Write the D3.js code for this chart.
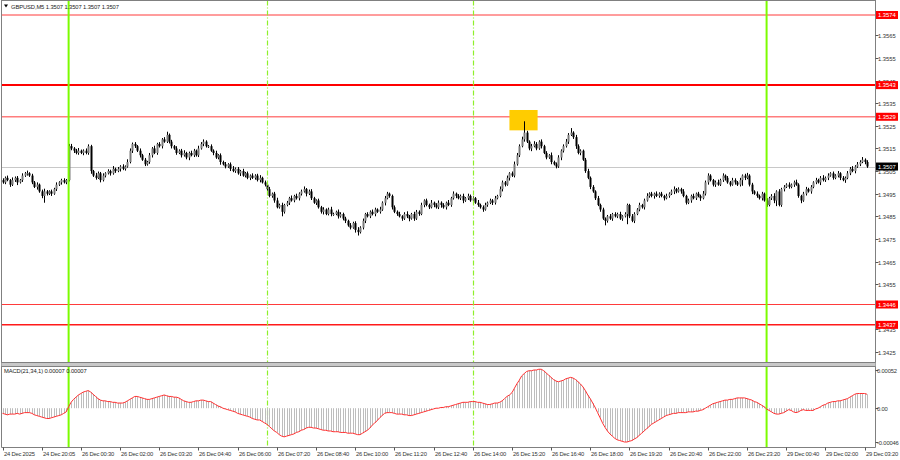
<!DOCTYPE html>
<html><head><meta charset="utf-8">
<script src="https://cdn.jsdelivr.net/npm/d3@7"></script>
<style>html,body{margin:0;padding:0;background:#fff}svg{display:block}text{font-family:"Liberation Sans",Arial,sans-serif}</style>
</head><body><div id="chart"></div>
<script>
const closes = [
1.3500,1.3502,1.3501,1.3499,1.3501,1.3502,1.3500,1.3501,1.3503,1.3504,
1.3504,1.3503,1.3500,1.3498,1.3499,1.3496,1.3494,1.3496,1.3495,1.3496,
1.3495,1.3497,1.3499,1.3500,1.3501,1.3500,1.3501,
1.3516,
1.3515,1.3514,1.3513,1.3514,1.3513,1.3514,1.3513,1.3516,
1.3505,1.3503,1.3502,1.3504,1.3501,
1.3503,1.3504,1.3505,1.3504,1.3506,1.3505,1.3506,1.3507,1.3506,1.3507,
1.3509,1.3514,1.3517,1.3516,
1.3514,1.3512,1.3510,1.3508,1.3509,
1.3512,1.3515,1.3513,1.3517,1.3516,1.3519,1.3518,1.3521,
1.3518,1.3516,1.3515,1.3513,1.3514,1.3512,1.3513,1.3511,
1.3513,1.3512,1.3514,1.3512,
1.3515,1.3517,1.3518,1.3516,
1.3516,1.3514,1.3513,1.3511,1.3512,1.3509,
1.3508,1.3507,1.3508,1.3506,1.3505,1.3506,1.3504,1.3505,
1.3503,1.3504,1.3502,1.3503,1.3502,1.3503,1.3501,1.3502,
1.3500,1.3499,
1.3497,1.3494,1.3495,1.3492,
1.3489,1.3490,1.3487,
1.3490,1.3491,1.3493,1.3492,1.3494,1.3493,1.3495,
1.3496,1.3497,1.3495,1.3496,
1.3493,1.3491,1.3492,
1.3489,1.3487,1.3488,1.3486,1.3488,1.3486,
1.3486,1.3487,1.3485,1.3486,1.3484,1.3483,
1.3481,1.3480,1.3482,1.3479,1.3478,1.3480,
1.3483,1.3486,1.3485,1.3487,
1.3486,1.3488,1.3487,1.3488,
1.3491,1.3493,1.3495,1.3494,
1.3489,1.3487,
1.3486,1.3485,1.3484,1.3486,1.3485,1.3484,
1.3486,1.3484,1.3487,1.3486,
1.3490,1.3492,
1.3490,1.3489,1.3491,1.3490,1.3489,1.3491,1.3490,1.3489,1.3491,1.3490,
1.3493,1.3495,1.3494,
1.3493,1.3494,1.3492,1.3493,1.3494,1.3492,
1.3493,1.3491,1.3490,
1.3489,1.3488,1.3490,
1.3491,1.3492,1.3491,1.3493,1.3494,
1.3497,1.3500,1.3499,
1.3502,1.3504,1.3503,
1.3508,1.3512,
1.3516,1.3519,1.3522,
1.3518,1.3515,1.3516,
1.3517,1.3515,1.3518,1.3516,
1.3513,1.3511,1.3512,
1.3509,1.3508,1.3507,
1.3511,1.3514,1.3516,1.3518,
1.3521,1.3522,1.3520,
1.3516,1.3513,1.3514,1.3510,
1.3505,1.3502,1.3498,1.3496,
1.3493,1.3490,1.3488,
1.3484,1.3483,
1.3485,1.3484,1.3486,1.3485,1.3486,1.3484,1.3485,1.3486,
1.3490,
1.3485,1.3483,1.3486,
1.3488,1.3490,1.3489,
1.3492,1.3494,1.3495,1.3494,1.3495,1.3494,1.3495,
1.3494,1.3493,1.3494,1.3495,
1.3496,1.3497,1.3496,1.3497,1.3496,
1.3494,1.3491,1.3492,
1.3494,1.3493,1.3495,1.3494,1.3493,1.3495,
1.3500,1.3503,
1.3501,1.3499,1.3500,1.3499,
1.3501,1.3503,1.3502,
1.3500,1.3499,1.3501,1.3500,1.3499,
1.3501,1.3503,1.3502,1.3503,
1.3499,1.3496,1.3495,
1.3494,1.3493,1.3495,1.3492,
1.3490,
1.3493,1.3494,1.3492,
1.3496,1.3490,1.3497,
1.3498,1.3499,1.3498,1.3499,1.3500,1.3499,
1.3494,1.3492,
1.3495,1.3497,1.3496,1.3498,
1.3500,1.3501,1.3500,1.3502,1.3501,1.3502,
1.3503,1.3504,1.3502,1.3503,1.3504,
1.3502,1.3501,1.3502,
1.3504,1.3506,1.3505,1.3507,
1.3508,1.3509,1.3510,1.3509,
1.3507
];
const firstOpen = 1.3501;
// wick lengths in points (0.00001)
const wickHi = [
8,6,10,5,12,6,8,5,10,6, 12,5,8,6,10,5,8,12,6,5, 8,6,10,5,6,8,5,10,10,6,
8,12,5,6,10,8,6,5,12,8, 6,10,5,8,6,12,5,8,6,10, 5,12,10,6,8,5,10,6,8,5,
10,6,12,5,8,6,10,14,6,8, 5,10,6,8,12,5,6,10,8,5, 12,8,10,6,5,8,6,10,5,8,
6,10,5,8,12,6,8,5,10,6, 8,5,10,6,8,12,5,8,6,10, 5,8,12,6,10,5,8,6,12,5,
10,6,8,12,5,8,10,6,5,8, 6,10,5,8,12,6,5,10,8,6, 8,5,10,6,8,12,6,10,5,8,
6,10,8,5,12,6,10,8,5,6, 8,6,10,5,8,12,6,5,10,8, 6,10,5,8,6,12,5,8,10,6,
8,5,12,6,10,5,8,6,10,5, 10,6,8,5,12,6,8,10,5,8, 6,10,5,12,8,6,10,5,8,12,
10,8,12,50,8,6,10,12,8,6, 10,6,8,5,12,6,8,10,6,8, 12,8,20,6,10,8,6,5,8,10,
6,8,5,10,6,8,5,6,10,5, 8,6,10,5,8,6,5,10,8,6, 10,5,8,12,6,8,5,10,6,8,
5,10,6,8,12,5,8,6,10,5, 8,6,10,5,8,6,12,8,10,6, 5,8,12,6,10,5,8,6,10,8,
6,10,5,8,12,6,8,5,10,6, 8,5,10,6,8,12,5,10,6,8, 6,10,5,8,12,6,5,8,10,6,
8,5,10,6,8,12,6,10,5,8, 6,10,5,8,6,10,8,12,6,10, 8,12,6,8
];
const wickLo = [
6,8,5,10,6,8,12,5,8,6, 10,6,8,5,12,6,10,30,8,6, 10,5,8,6,10,5,8,6,8,10,
6,8,5,10,6,8,12,6,8,5, 10,6,8,5,10,6,8,5,12,6, 8,5,6,10,8,6,10,5,8,6,
8,10,5,8,6,10,5,6,8,10, 6,8,5,10,6,8,12,5,8,6, 8,5,10,6,8,5,10,6,8,12,
5,8,6,10,5,8,6,12,5,8, 6,10,5,8,6,10,5,8,12,6, 8,10,5,6,20,8,6,10,5,8,
6,10,8,5,12,6,8,5,10,6, 8,12,5,6,10,8,5,10,6,8, 10,6,8,5,12,15,6,8,10,5,
8,6,10,5,8,6,12,5,8,10, 6,8,5,10,6,8,12,5,10,6, 8,5,10,6,8,5,10,6,8,12,
6,10,5,8,6,10,5,8,12,6, 8,6,10,5,8,6,10,5,8,6, 10,8,5,6,10,8,5,12,6,8,
6,8,5,10,6,8,12,5,8,6, 10,5,8,6,10,5,8,6,12,8, 6,10,5,8,12,6,10,5,8,6,
10,6,8,5,10,6,20,8,6,10, 5,8,6,10,5,45,8,6,10,5, 8,6,10,5,8,6,12,5,8,6,
10,5,8,6,12,8,5,10,6,8, 6,10,5,8,6,12,5,8,10,6, 8,10,5,6,8,12,6,8,5,10,
6,8,25,10,6,8,12,5,8,6, 10,5,8,6,8,12,25,6,8,10, 5,8,6,10,5,8,12,6,8,5,
10,6,8,5,12,6,8,10,5,8, 6,8,10,5,12,6,8,5,10,6, 8,5,10,6
];
// MACD main values in points (0.00001)
const macdPts = [
-7,-8,-9,-8,-8,-8,-7,-8,-7,-6,-6,-6,-7,-9,-10,-11,-12,-13,-14,-14,-13,
-12,-11,-10,-9,-7,-5,2,8,12,15,18,20,22,23,24,22,19,16,13,11,
10,10,9,9,8,8,7,7,7,8,10,12,14,16,16,15,14,13,12,12,
13,14,15,16,17,18,17,16,16,15,15,14,12,10,9,8,8,9,10,10,11,
11,10,9,9,7,5,3,2,0,-1,-2,-3,-4,-5,-7,-8,-9,-10,-11,-12,
-14,-15,-16,-16,-18,-20,-22,-25,-28,-31,-33,-36,-38,-39,-38,-37,-36,-35,-33,
-32,-30,-29,-27,-26,-26,-27,-27,-28,-29,-30,-30,-31,-31,-32,-32,
-32,-33,-33,-33,-34,-34,-34,-35,-36,-36,-34,-32,-30,-27,
-23,-20,-17,-13,-10,-7,-6,-6,-6,-7,-8,-8,-8,-9,-9,-10,-10,-9,-8,-7,
-6,-5,-4,-3,-2,-1,0,0,1,1,2,2,3,4,5,6,7,8,8,8,9,9,9,8,8,7,6,5,5,
6,7,7,8,10,13,16,18,21,27,33,38,44,47,50,51,51,52,52,53,53,
51,48,45,42,39,37,36,37,38,40,41,42,41,39,36,33,29,24,18,13,7,
1,-6,-13,-20,-26,-31,-35,-38,-41,-43,-44,-45,-46,-46,-45,-44,-42,-40,
-37,-34,-31,-28,-25,-22,-20,-18,-16,-14,-12,-10,-9,-8,-7,-7,-6,
-6,-6,-6,-5,-5,-5,-4,-4,-3,-2,0,2,4,6,7,8,9,10,11,11,12,12,
13,14,14,14,14,13,12,11,9,8,6,4,2,-1,-3,-5,-7,-8,-8,-7,-6,-4,
-2,-3,-5,-6,-5,-3,-2,-3,-3,-3,-3,-1,0,2,4,5,7,8,9,9,10,10,
11,12,13,15,17,19,20,20,20,20,19
];
const timeLabels = ["24 Dec 2025","24 Dec 20:05","26 Dec 00:30","26 Dec 02:00","26 Dec 03:20","26 Dec 04:40","26 Dec 06:00","26 Dec 07:20","26 Dec 08:40","26 Dec 10:00","26 Dec 11:20","26 Dec 12:40","26 Dec 14:00","26 Dec 15:20","26 Dec 16:40","26 Dec 18:00","26 Dec 19:20","26 Dec 20:40","26 Dec 22:00","26 Dec 23:20","29 Dec 00:40","29 Dec 02:00","29 Dec 03:20"];
const timeTickBars = [0,16,32,48,64,80,96,112,128,144,160,176,192,208,224,240,256,272,288,304,320,336,352];
const priceTicks = [1.3425,1.3435,1.3455,1.3465,1.3475,1.3485,1.3495,1.3505,1.3515,1.3525,1.3535,1.3545,1.3555,1.3565];
const levelPrices = [1.3574,1.3543,1.3529,1.3446,1.3437];
const levelKinds = ["thin","thick","light","thin","mid"];
const dayLineBars = [27,312];
const sessionLineBars = [108,192];
const boxBars = [207,218.5];
const boxPrices = [1.3532,1.3523];
const lastPrice = 1.3507;
const macdTicks = [0.00052,0,-0.00046];
const macdTickLabels = ["0.00052","0.00","-0.00046"];
const titleText = "GBPUSD,M5  1.3507 1.3507 1.3507 1.3507";
const macdText = "MACD(21,34,1) 0.00007 0.00007";

const W=900,H=460;
const plotL=1.5, plotR=875.5, mainT=0.5, mainB=362.5, macdT=366.5, macdB=447.5;
const FS=5.8;
const svg=d3.select("#chart").append("svg").attr("width",W).attr("height",H);
svg.append("rect").attr("width",W).attr("height",H).attr("fill","#fff");

const x=d3.scaleLinear().domain([0,355]).range([2.5,2.5+355*2.449]);
const y=d3.scaleLinear().domain([1.3425,1.3574]).range([352,15]);
const ym=d3.scaleLinear().domain([-0.00046,0.00052]).range([442,370]);

// candles
const opens=closes.map((c,i)=>i===0?firstOpen:closes[i-1]);
const cand=closes.map((c,i)=>({i,o:opens[i],c,h:Math.max(opens[i],c)+wickHi[i]*1e-5,l:Math.min(opens[i],c)-wickLo[i]*1e-5}));

const main=svg.append("g");
main.append("line").attr("x1",plotL).attr("x2",plotR).attr("y1",Math.round(y(lastPrice))+0.5).attr("y2",Math.round(y(lastPrice))+0.5).attr("stroke","#c8c8c8").attr("stroke-width",1);

const lvlStyle={thin:["#ff3b3b",1],thick:["#ff0000",2],light:["#ff7d7d",1.5],mid:["#ff1a1a",1.5]};
levelPrices.forEach((p,k)=>{
  const s=lvlStyle[levelKinds[k]];
  main.append("line").attr("x1",plotL).attr("x2",plotR).attr("y1",y(p)).attr("y2",y(p)).attr("stroke",s[0]).attr("stroke-width",s[1]);
});

main.append("rect").attr("x",x(boxBars[0])).attr("y",y(boxPrices[0])).attr("width",x(boxBars[1])-x(boxBars[0])).attr("height",y(boxPrices[1])-y(boxPrices[0])).attr("fill","#ffcc00");

dayLineBars.forEach(b=>{
  svg.append("line").attr("x1",x(b)).attr("x2",x(b)).attr("y1",mainT).attr("y2",macdB).attr("stroke","#7cfc00").attr("stroke-width",2);
});
sessionLineBars.forEach(b=>{
  svg.append("line").attr("x1",Math.round(x(b))+0.5).attr("x2",Math.round(x(b))+0.5).attr("y1",mainT).attr("y2",macdB).attr("stroke","#8ff02a").attr("stroke-width",1.2).attr("stroke-dasharray","5,2,1,2");
});

const cg=main.append("g");
cand.forEach(d=>{
  const cx=Math.round(x(d.i))+0.5;
  cg.append("line").attr("x1",cx).attr("x2",cx).attr("y1",y(d.h)).attr("y2",y(d.l)).attr("stroke","#000").attr("stroke-width",1);
  const top=y(Math.max(d.o,d.c)), bot=y(Math.min(d.o,d.c));
  const bull=d.c>=d.o;
  cg.append("rect").attr("x",cx-1).attr("width",2).attr("y",top).attr("height",Math.max(1,bot-top))
    .attr("fill",bull?"#7a7a7a":"#000");
});

const mg=svg.append("g");
macdPts.forEach((v,i)=>{
  const cx=Math.round(x(i))+0.5;
  mg.append("line").attr("x1",cx).attr("x2",cx).attr("y1",ym(0)).attr("y2",ym(v*1e-5)).attr("stroke","#bdbdbd").attr("stroke-width",1);
});
mg.append("path").datum(macdPts).attr("fill","none").attr("stroke","#ff3030").attr("stroke-width",1)
  .attr("d",d3.line().x((v,i)=>x(i)).y(v=>ym(v*1e-5)));

svg.append("line").attr("x1",plotL).attr("x2",plotL).attr("y1",0).attr("y2",macdB).attr("stroke","#808080");
svg.append("line").attr("x1",plotR).attr("x2",plotR).attr("y1",0).attr("y2",macdB).attr("stroke","#808080");
svg.append("line").attr("x1",plotL).attr("x2",plotR).attr("y1",mainT).attr("y2",mainT).attr("stroke","#808080");
svg.append("rect").attr("x",plotL).attr("y",mainB).attr("width",plotR-plotL).attr("height",macdT-mainB).attr("fill","#c8c8c8");
svg.append("line").attr("x1",plotL).attr("x2",plotR).attr("y1",mainB).attr("y2",mainB).attr("stroke","#808080");
svg.append("line").attr("x1",plotL).attr("x2",plotR).attr("y1",macdT).attr("y2",macdT).attr("stroke","#808080");
svg.append("line").attr("x1",plotL).attr("x2",plotR).attr("y1",macdB).attr("y2",macdB).attr("stroke","#808080");

const ax=svg.append("g").attr("font-size",FS).attr("fill","#333");
priceTicks.forEach(p=>{
  const yy=Math.round(y(p))+0.5;
  ax.append("line").attr("x1",plotR).attr("x2",plotR+3).attr("y1",yy).attr("y2",yy).attr("stroke","#555");
  ax.append("text").attr("x",878).attr("y",yy+2).text(p.toFixed(4));
});
levelPrices.forEach(p=>{
  const yy=y(p);
  ax.append("rect").attr("x",876).attr("y",yy-4).attr("width",22).attr("height",8).attr("fill","#ff0000");
  ax.append("text").attr("x",878).attr("y",yy+2).attr("fill","#fff").text(p.toFixed(4));
});
{
  const yy=y(lastPrice);
  ax.append("rect").attr("x",876).attr("y",yy-4).attr("width",22).attr("height",8).attr("fill","#000");
  ax.append("text").attr("x",878).attr("y",yy+2).attr("fill","#fff").text(lastPrice.toFixed(4));
}
macdTicks.forEach((v,k)=>{
  const yy=Math.round(ym(v))+0.5;
  ax.append("line").attr("x1",plotR).attr("x2",plotR+3).attr("y1",yy).attr("y2",yy).attr("stroke","#555");
  ax.append("text").attr("x",877).attr("y",yy+2).attr("letter-spacing",-0.15).text(macdTickLabels[k]);
});

timeTickBars.forEach((b,k)=>{
  const xx=Math.round(x(b))+0.5;
  ax.append("line").attr("x1",xx).attr("x2",xx).attr("y1",macdB).attr("y2",macdB+3).attr("stroke","#555");
  ax.append("text").attr("x",xx+0.5).attr("y",456).attr("letter-spacing",-0.2).text(timeLabels[k]);
});

svg.append("path").attr("d","M4,4.5 L8,4.5 L6,7.5 Z").attr("fill","#000");
svg.append("text").attr("x",11).attr("y",8.5).attr("font-size",FS).attr("letter-spacing",-0.1).attr("fill","#222").text(titleText);
svg.append("text").attr("x",4).attr("y",373).attr("font-size",FS).attr("letter-spacing",-0.1).attr("fill","#222").text(macdText);
</script></body></html>
